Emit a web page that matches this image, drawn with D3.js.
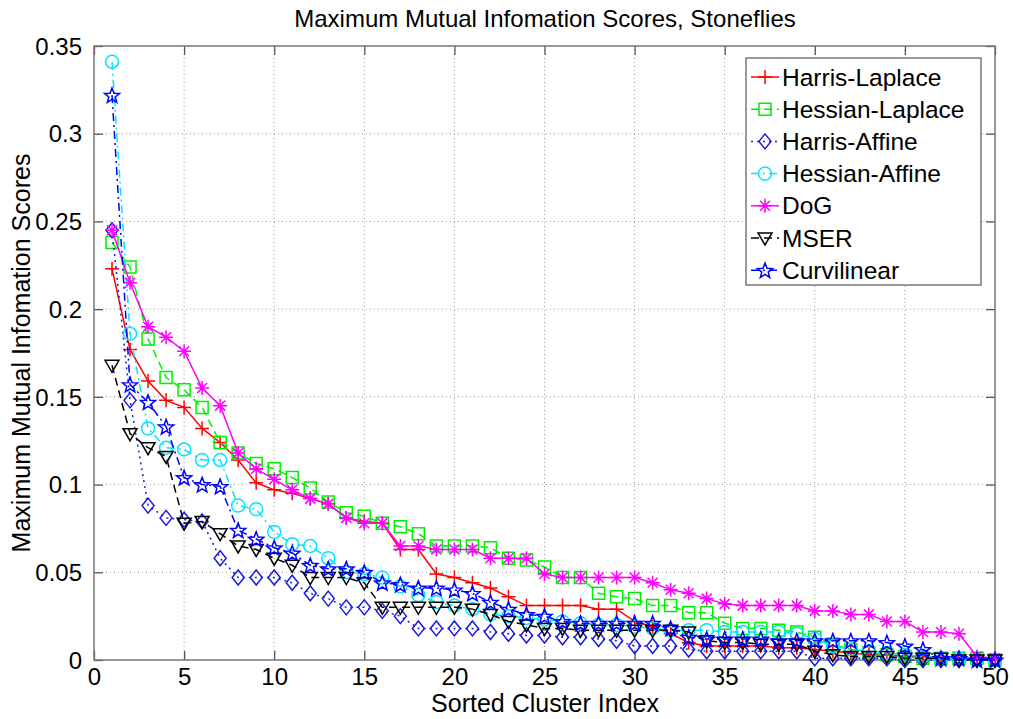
<!DOCTYPE html>
<html>
<head>
<meta charset="utf-8">
<script src="https://cdn.jsdelivr.net/npm/d3@7"></script>
<style>
  html, body { margin: 0; padding: 0; background: #fff; }
  svg { display: block; }
  text { font-family: "Liberation Sans", Arial, Helvetica, sans-serif; fill: #000; }
</style>
</head>
<body>
<svg id="chart" width="1013" height="719"></svg>
<script>
// ---------------- DATA ----------------
const clusterIndex = d3.range(1, 51);
const xTicks = [0, 5, 10, 15, 20, 25, 30, 35, 40, 45, 50];
const yTicks = [0, 0.05, 0.1, 0.15, 0.2, 0.25, 0.3, 0.35];
const yTickLabels = ["0", "0.05", "0.1", "0.15", "0.2", "0.25", "0.3", "0.35"];
const seriesNames = ["Harris-Laplace", "Hessian-Laplace", "Harris-Affine", "Hessian-Affine", "DoG", "MSER", "Curvilinear"];

const harrisLaplace = [0.223,0.177,0.159,0.148,0.144,0.132,0.124,0.114,0.101,0.097,
  0.095,0.092,0.089,0.081,0.079,0.078,0.063,0.063,0.049,0.047,
  0.044,0.041,0.036,0.031,0.031,0.031,0.031,0.029,0.029,0.022,
  0.019,0.015,0.010,0.008,0.008,0.008,0.008,0.007,0.007,0.006,
  0.005,0.004,0.003,0.003,0.002,0.002,0.001,0.001,0.001,0.000];
const hessianLaplace = [0.238,0.224,0.183,0.161,0.154,0.144,0.124,0.118,0.112,0.109,
  0.104,0.098,0.090,0.084,0.082,0.078,0.076,0.072,0.065,0.065,
  0.065,0.064,0.058,0.057,0.053,0.047,0.047,0.038,0.036,0.035,
  0.031,0.031,0.027,0.027,0.021,0.018,0.018,0.017,0.016,0.013,
  0.009,0.006,0.004,0.003,0.002,0.001,0.001,0.001,0.001,0.000];
const harrisAffine = [0.245,0.148,0.088,0.081,0.080,0.079,0.058,0.047,0.047,0.047,
  0.044,0.038,0.035,0.030,0.030,0.028,0.025,0.018,0.018,0.018,
  0.018,0.016,0.015,0.014,0.014,0.013,0.013,0.012,0.011,0.008,
  0.008,0.008,0.006,0.005,0.005,0.005,0.005,0.005,0.005,0.001,
  0.001,0.001,0.001,0.001,0.000,0.000,0.000,0.000,0.000,0.000];
const hessianAffine = [0.341,0.186,0.132,0.121,0.120,0.114,0.114,0.088,0.086,0.073,
  0.066,0.065,0.058,0.050,0.049,0.047,0.042,0.037,0.033,0.031,
  0.029,0.026,0.025,0.024,0.023,0.022,0.021,0.020,0.020,0.019,
  0.018,0.017,0.017,0.017,0.016,0.016,0.016,0.016,0.015,0.012,
  0.008,0.006,0.005,0.004,0.003,0.002,0.001,0.001,0.000,0.000];
const dog = [0.245,0.215,0.190,0.184,0.176,0.155,0.145,0.118,0.109,0.103,
  0.097,0.092,0.089,0.081,0.078,0.078,0.065,0.065,0.063,0.063,
  0.063,0.058,0.058,0.058,0.049,0.047,0.047,0.047,0.047,0.047,
  0.044,0.040,0.038,0.035,0.032,0.031,0.031,0.031,0.031,0.028,
  0.028,0.026,0.026,0.022,0.022,0.016,0.016,0.015,0.002,0.001];
const mser = [0.168,0.129,0.121,0.116,0.078,0.079,0.072,0.065,0.063,0.058,
  0.054,0.047,0.047,0.047,0.044,0.030,0.030,0.030,0.030,0.030,
  0.029,0.026,0.022,0.020,0.018,0.018,0.017,0.017,0.017,0.017,
  0.017,0.017,0.016,0.011,0.010,0.010,0.009,0.009,0.009,0.005,
  0.003,0.002,0.002,0.002,0.001,0.001,0.001,0.000,0.000,0.000];
const curvilinear = [0.322,0.157,0.147,0.133,0.104,0.100,0.099,0.074,0.069,0.064,
  0.061,0.054,0.052,0.052,0.050,0.044,0.043,0.041,0.041,0.040,
  0.038,0.033,0.029,0.026,0.025,0.022,0.021,0.021,0.021,0.021,
  0.021,0.018,0.013,0.012,0.012,0.012,0.012,0.011,0.011,0.011,
  0.011,0.011,0.011,0.010,0.008,0.006,0.001,0.001,0.000,0.000];

const seriesValues = [harrisLaplace, hessianLaplace, harrisAffine, hessianAffine, dog, mser, curvilinear];

// ---------------- STYLES ----------------
const styles = [
  { color: "#ff0000", dash: null,       marker: "plus" },
  { color: "#00ee00", dash: "8,5",      marker: "square" },
  { color: "#1a1ae0", dash: "2,4",      marker: "diamond" },
  { color: "#00e5ff", dash: "8,4,2,4",  marker: "circle" },
  { color: "#ff00ff", dash: null,       marker: "asterisk" },
  { color: "#000000", dash: "8,5",      marker: "triangleDown" },
  { color: "#0000ff", dash: "8,4,2,4",  marker: "star" }
];

function markerPath(type) {
  const p = d3.path();
  switch (type) {
    case "plus":
      p.moveTo(-7, 0); p.lineTo(7, 0); p.moveTo(0, -7); p.lineTo(0, 7); break;
    case "square":
      p.rect(-6, -6, 12, 12); break;
    case "diamond":
      p.moveTo(0, -7.5); p.lineTo(6, 0); p.lineTo(0, 7.5); p.lineTo(-6, 0); p.closePath(); break;
    case "circle":
      p.moveTo(6.5, 0); p.arc(0, 0, 6.5, 0, 2 * Math.PI); break;
    case "asterisk": {
      const r = 7, q = 5;
      p.moveTo(-r, 0); p.lineTo(r, 0); p.moveTo(0, -r); p.lineTo(0, r);
      p.moveTo(-q, -q); p.lineTo(q, q); p.moveTo(-q, q); p.lineTo(q, -q); break;
    }
    case "triangleDown":
      p.moveTo(-7, -5); p.lineTo(7, -5); p.lineTo(0, 7); p.closePath(); break;
    case "star": {
      const R = 8, r = 3.4;
      for (let k = 0; k < 10; k++) {
        const a = -Math.PI / 2 + k * Math.PI / 5;
        const rr = k % 2 === 0 ? R : r;
        const px = rr * Math.cos(a), py = rr * Math.sin(a) + 0.8;
        if (k === 0) p.moveTo(px, py); else p.lineTo(px, py);
      }
      p.closePath(); break;
    }
  }
  return p.toString();
}

// ---------------- LAYOUT ----------------
const svg = d3.select("#chart");
const L = 94, R = 995, T = 46, B = 660;
const x = d3.scaleLinear().domain([0, 50]).range([L, R]);
const y = d3.scaleLinear().domain([0, 0.35]).range([B, T]);

svg.append("rect").attr("width", 1013).attr("height", 719).attr("fill", "#fff");

// grid
const grid = svg.append("g");
grid.selectAll(".gx").data(xTicks.slice(1, -1)).enter().append("line")
  .attr("x1", d => x(d)).attr("x2", d => x(d)).attr("y1", T).attr("y2", B)
  .attr("stroke", "#9a9a9a").attr("stroke-width", 1).attr("stroke-dasharray", "1,3");
grid.selectAll(".gy").data(yTicks.slice(1, -1)).enter().append("line")
  .attr("y1", d => y(d)).attr("y2", d => y(d)).attr("x1", L).attr("x2", R)
  .attr("stroke", "#9a9a9a").attr("stroke-width", 1).attr("stroke-dasharray", "1,3");

// axes with inward ticks (bottom/left labelled, top/right unlabelled)
const tickLen = 9;
const axB = svg.append("g").attr("transform", `translate(0,${B})`)
  .call(d3.axisBottom(x).tickValues(xTicks).tickSizeInner(-tickLen).tickSizeOuter(0).tickPadding(8).tickFormat(d3.format("d")));
const axT = svg.append("g").attr("transform", `translate(0,${T})`)
  .call(d3.axisTop(x).tickValues(xTicks).tickSizeInner(-tickLen).tickSizeOuter(0).tickFormat(""));
const axLf = svg.append("g").attr("transform", `translate(${L},0)`)
  .call(d3.axisLeft(y).tickValues(yTicks).tickSizeInner(-tickLen).tickSizeOuter(0).tickPadding(12).tickFormat((d, i) => yTickLabels[i]));
const axRt = svg.append("g").attr("transform", `translate(${R},0)`)
  .call(d3.axisRight(y).tickValues(yTicks).tickSizeInner(-tickLen).tickSizeOuter(0).tickFormat(""));
[axB, axT, axLf, axRt].forEach(a => {
  a.select(".domain").remove();
  a.selectAll(".tick line").attr("stroke", "#555").attr("stroke-width", 1.3);
  a.selectAll("text").style("font-family", '"Liberation Sans", Arial, sans-serif').style("font-size", "24px").attr("fill", "#000");
});
axB.selectAll("text").attr("dy", "0.71em");
axLf.selectAll("text").attr("dy", "0.34em");

// box
svg.append("rect").attr("x", L).attr("y", T).attr("width", R - L).attr("height", B - T)
  .attr("fill", "none").attr("stroke", "#777").attr("stroke-width", 1.5);

// series
const line = d3.line().x((d, i) => x(clusterIndex[i])).y(d => y(d));
const plot = svg.append("g");
seriesValues.forEach((vals, si) => {
  const st = styles[si];
  const g = plot.append("g");
  g.append("path").datum(vals).attr("d", line)
    .attr("fill", "none").attr("stroke", st.color).attr("stroke-width", 1.5)
    .attr("stroke-dasharray", st.dash);
  g.selectAll("path.m").data(vals).enter().append("path").attr("class", "m")
    .attr("d", markerPath(st.marker))
    .attr("transform", (d, i) => `translate(${x(clusterIndex[i])},${y(d)})`)
    .attr("fill", "none").attr("stroke", st.color).attr("stroke-width", 1.5);
});

// titles
svg.append("text").attr("x", 545).attr("y", 27).attr("text-anchor", "middle")
  .style("font-size", "24px").text("Maximum Mutual Infomation Scores, Stoneflies");
svg.append("text").attr("x", 545).attr("y", 712).attr("text-anchor", "middle")
  .style("font-size", "25px").text("Sorted Cluster Index");
svg.append("text").attr("transform", "translate(30,353) rotate(-90)").attr("text-anchor", "middle")
  .style("font-size", "25px").text("Maximum Mutual Infomation Scores");

// legend
const lg = svg.append("g");
lg.append("rect").attr("x", 746).attr("y", 58).attr("width", 235).attr("height", 227)
  .attr("fill", "#fff").attr("stroke", "#555").attr("stroke-width", 1.2);
seriesNames.forEach((name, si) => {
  const st = styles[si];
  const cy = 77 + si * 32.2;
  lg.append("line").attr("x1", 751).attr("x2", 779).attr("y1", cy).attr("y2", cy)
    .attr("stroke", st.color).attr("stroke-width", 1.5).attr("stroke-dasharray", st.dash);
  lg.append("path").attr("d", markerPath(st.marker)).attr("transform", `translate(765,${cy})`)
    .attr("fill", "none").attr("stroke", st.color).attr("stroke-width", 1.5);
  lg.append("text").attr("x", 782).attr("y", cy + 8.5).style("font-size", "24.5px").text(name);
});
</script>
</body>
</html>
